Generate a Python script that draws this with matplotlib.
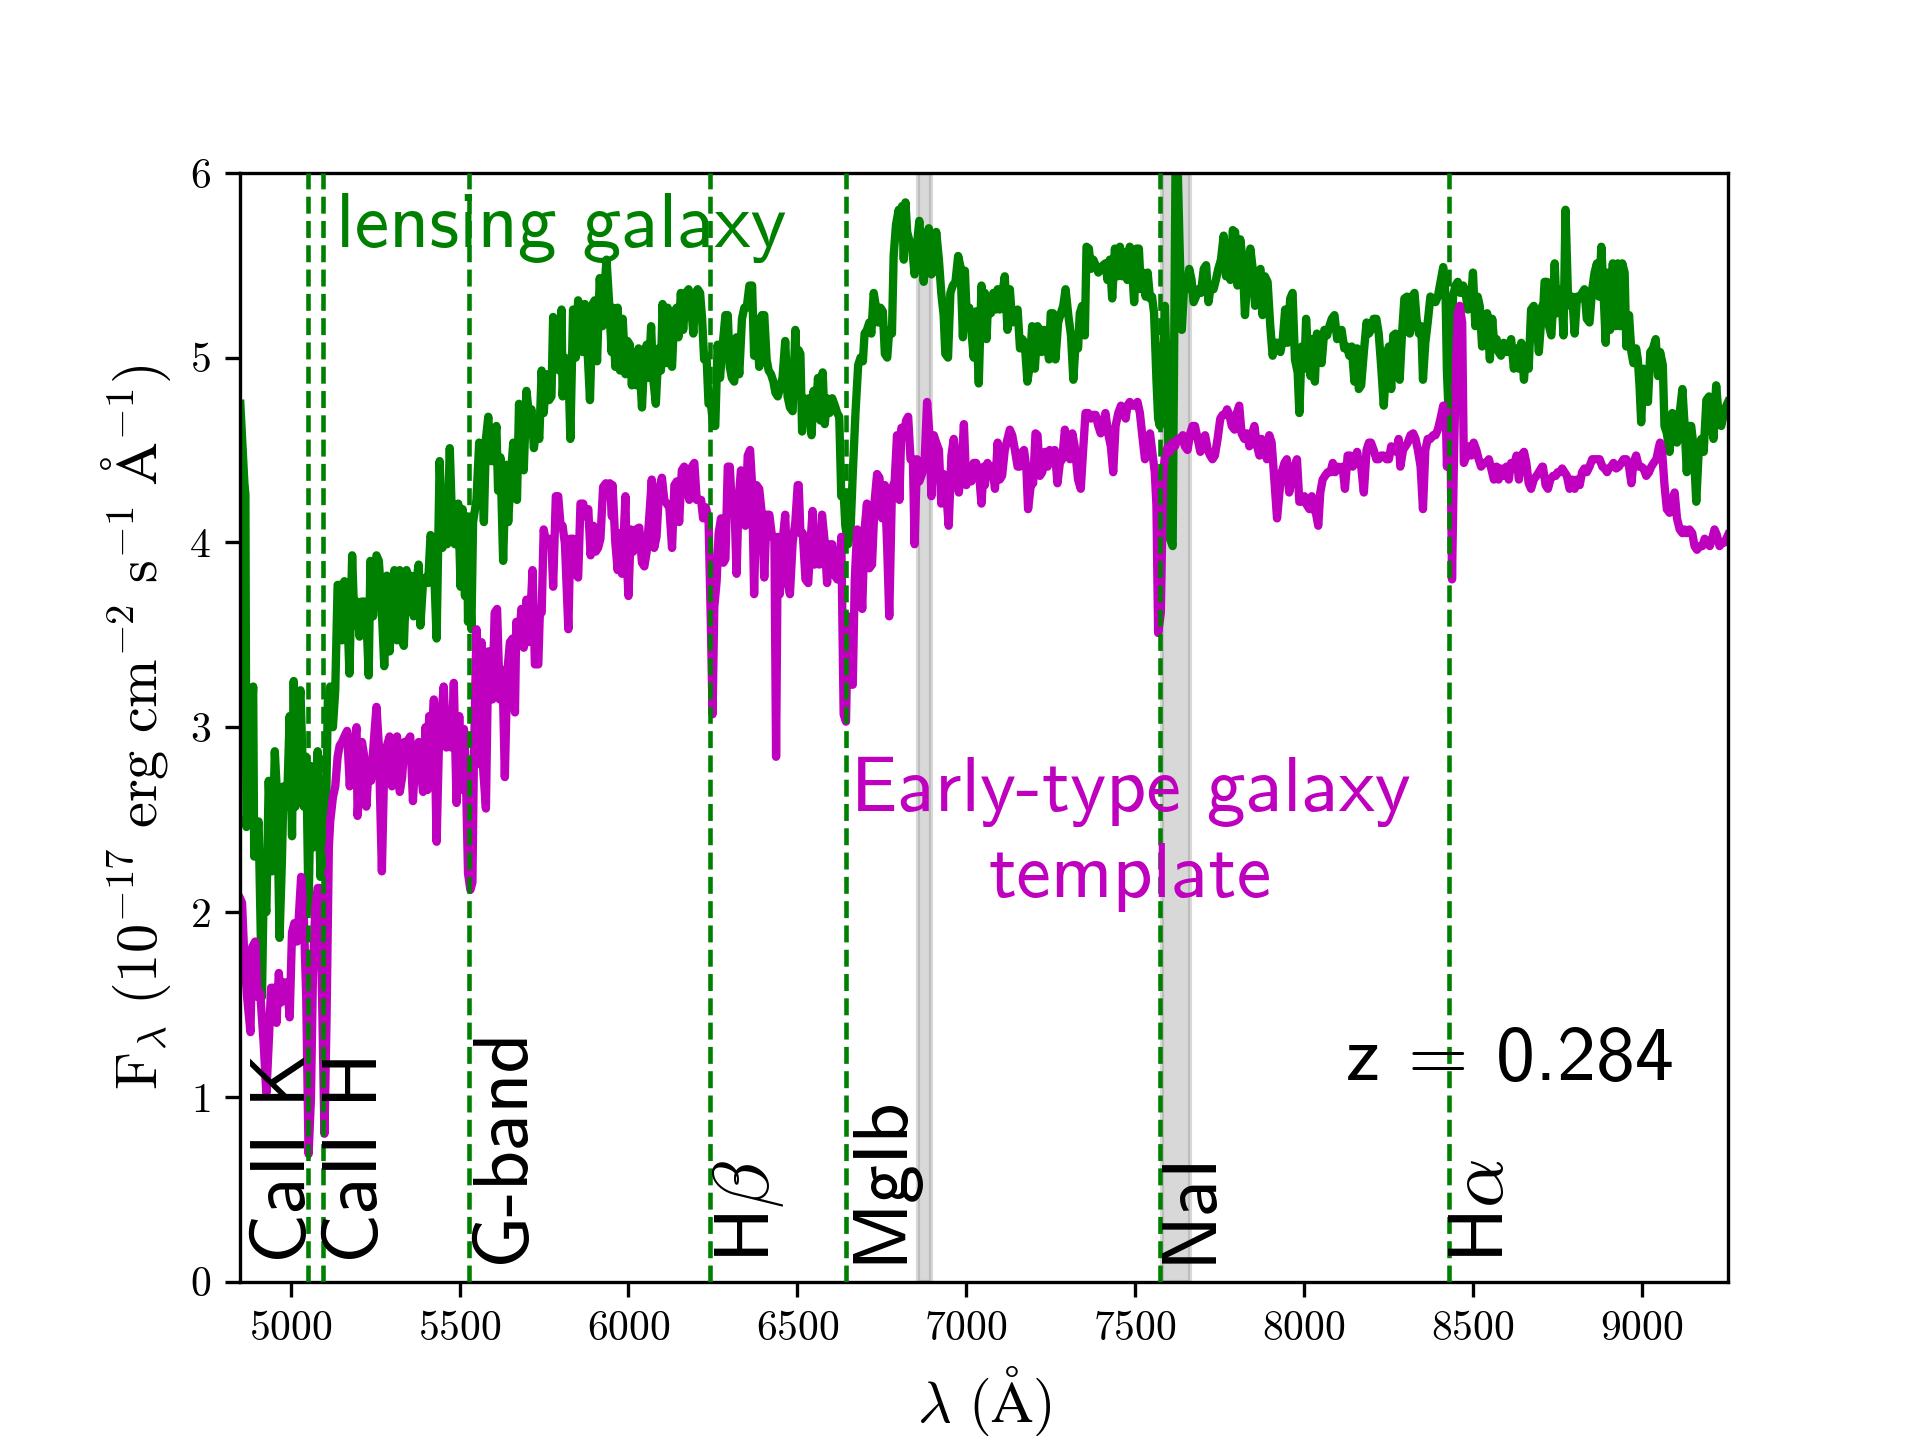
import matplotlib
matplotlib.use('Agg')
import matplotlib.pyplot as plt

# lensing galaxy spectrum (Angstrom, 1e-17 erg/cm2/s/A)
lens_wave = [4851, 4863, 4866, 4869, 4876, 4889, 4892, 4905, 4915, 4920, 4928, 4935, 4945, 4953, 4960, 4967,
             4974, 4979, 4989, 4997, 5004, 5009, 5014, 5021, 5029, 5039, 5046, 5053, 5060, 5068, 5080, 5088,
             5096, 5103, 5110, 5117, 5125, 5132, 5139, 5147, 5152, 5159, 5167, 5174, 5182, 5189, 5196, 5204,
             5211, 5218, 5224, 5231, 5236, 5244, 5254, 5261, 5268, 5277, 5285, 5293, 5300, 5307, 5315, 5323,
             5330, 5335, 5343, 5349, 5356, 5364, 5372, 5379, 5384, 5392, 5399,
             5407, 5414, 5422, 5432, 5441, 5449, 5456, 5463, 5471, 5479, 5486, 5496, 5503, 5509, 5516, 5522,
             5525, 5530, 5535, 5540, 5550, 5558, 5565, 5572, 5578, 5585, 5592, 5599, 5609, 5614, 5621, 5629,
             5637, 5644, 5651, 5659, 5664, 5670, 5676, 5683, 5690, 5698, 5706, 5713, 5720, 5728, 5736, 5743,
             5749, 5757, 5765, 5772, 5777, 5787, 5795, 5802, 5805, 5812, 5822, 5828, 5836, 5844, 5851, 5858,
             5864, 5871, 5878, 5886, 5894, 5900, 5907, 5915, 5923, 5930, 5935, 5943, 5950,
             5953, 5961, 5968, 5975, 5983, 5991, 5997, 6004, 6010, 6017, 6024, 6030, 6040, 6047, 6054, 6060,
             6067, 6073, 6081, 6089, 6096, 6101, 6109, 6116, 6123, 6129, 6136, 6143, 6148, 6155, 6162, 6170,
             6178, 6185, 6192, 6198, 6205, 6212, 6218, 6224, 6231, 6237, 6244, 6251, 6257, 6264, 6271, 6279,
             6287, 6294, 6300, 6306, 6313, 6320, 6328, 6336, 6343, 6350, 6358, 6366, 6372, 6379, 6387, 6395,
             6402, 6409, 6415, 6422, 6429, 6435, 6442, 6448, 6456, 6464, 6471, 6478, 6486, 6494, 6501,
             6504, 6509, 6514, 6519, 6526, 6534, 6542, 6548, 6555, 6561, 6568, 6575, 6581, 6588, 6595, 6603,
             6611, 6618, 6624, 6630, 6637, 6642, 6650, 6657, 6664, 6672, 6680, 6687, 6694, 6699, 6706, 6713,
             6719, 6726, 6733, 6739, 6746, 6753, 6759, 6766, 6772, 6780, 6785, 6792, 6800, 6805, 6810, 6815,
             6820, 6825, 6832, 6840, 6847, 6854, 6861, 6867, 6874, 6881, 6889, 6897, 6904, 6911, 6919, 6926,
             6933, 6938, 6946, 6953, 6960, 6968, 6976, 6983, 6990, 6996, 7002, 7009, 7015, 7022, 7029, 7037,
             7045, 7052,
             7055, 7060, 7065, 7073, 7080, 7087, 7093, 7099, 7106, 7114, 7122, 7129, 7136, 7144, 7152, 7159,
             7166, 7173, 7181, 7188, 7195, 7203, 7211, 7218, 7223, 7231, 7238, 7245, 7250, 7257, 7264, 7272,
             7280, 7287, 7294, 7302, 7310, 7317, 7323, 7331, 7336, 7343, 7351, 7356, 7363, 7369, 7376, 7383,
             7391, 7398, 7405, 7412, 7418, 7425, 7432, 7440, 7448, 7455, 7462, 7470, 7477, 7484, 7491, 7497,
             7504, 7511, 7517, 7524, 7531, 7537, 7544, 7550, 7556, 7563, 7568, 7573, 7578, 7588, 7596, 7603,
             7611, 7621, 7631, 7638, 7645, 7653, 7660, 7667, 7673, 7680, 7687, 7695, 7703, 7710, 7717, 7724,
             7732, 7739, 7746, 7754, 7762, 7769, 7776, 7782, 7789, 7796, 7803, 7811, 7818, 7825, 7833, 7841,
             7848, 7855, 7863, 7871, 7877, 7884, 7892, 7900, 7907, 7914, 7922, 7930, 7937, 7944, 7951, 7959,
             7966, 7973, 7981, 7986, 7993, 8001, 8006, 8013, 8019, 8025, 8032, 8038, 8045, 8052, 8060, 8068,
             8075, 8082, 8090, 8098, 8104, 8111, 8119, 8127, 8134, 8141, 8149, 8154,
             8157, 8162, 8169, 8177, 8185, 8192, 8198, 8206, 8214, 8221, 8228, 8236, 8244, 8251, 8258, 8264,
             8271, 8277, 8283, 8290, 8297, 8305, 8313, 8320, 8327, 8333, 8340, 8347, 8352, 8359, 8366, 8374,
             8382, 8389, 8396, 8404, 8412, 8419, 8423, 8428, 8435, 8441, 8448, 8455, 8463, 8471, 8478, 8485,
             8493, 8500, 8507, 8514, 8520, 8527, 8534, 8542, 8550, 8557, 8564, 8570, 8576, 8583, 8591, 8599,
             8606, 8613, 8621, 8629, 8636, 8643, 8651, 8658, 8665, 8672, 8680, 8688, 8695, 8705,
             8707, 8712, 8719, 8725, 8732, 8737, 8742, 8748, 8754, 8761, 8768, 8774, 8781, 8788, 8794, 8801,
             8808, 8816, 8823, 8830, 8837, 8845, 8853, 8860, 8867, 8873, 8880, 8887, 8893, 8899, 8906, 8914,
             8922, 8929, 8936, 8942, 8949, 8954, 8962, 8969, 8975, 8983, 8988, 8993, 8998, 9005, 9011, 9018,
             9025, 9033, 9041, 9048, 9054, 9062, 9067, 9074, 9082, 9090, 9097, 9104, 9112, 9120, 9126, 9133,
             9139, 9146, 9153, 9161, 9169, 9176, 9183, 9191, 9199, 9205, 9212, 9220, 9228, 9235, 9242, 9250,
             9255]
lens_flux = [4.75, 4.32, 4.26, 2.46, 2.68, 3.22, 2.30, 2.49, 1.54, 2.11, 2.00, 2.71, 2.22, 2.87, 2.62, 1.86,
             2.27, 2.68, 2.57, 3.06, 2.41, 3.25, 2.57, 3.06, 3.20, 2.57, 2.84, 2.00, 2.79, 2.35, 2.87, 2.19,
             2.49, 2.35, 3.14, 3.22, 3.00, 3.20, 3.77, 3.77, 3.47, 3.79, 3.66, 3.29, 3.93, 3.55, 3.68, 3.49,
             3.68, 3.68, 3.60, 3.28, 3.90, 3.60, 3.93, 3.90, 3.71, 3.33, 3.82, 3.41, 3.71, 3.85, 3.47, 3.85,
             3.47, 3.44, 3.85, 3.77, 3.82, 3.60, 3.79, 3.88, 3.55, 3.79, 3.81,
             3.78, 4.04, 3.99, 3.48, 4.44, 3.97, 4.21, 3.99, 4.51, 4.04, 3.99, 4.21, 3.76, 4.18, 3.71, 4.14,
             3.57, 3.81, 3.53, 4.11, 4.23, 4.54, 4.42, 4.11, 4.56, 4.68, 4.44, 4.44, 4.63, 4.28, 4.46, 3.90,
             4.42, 4.11, 4.35, 4.54, 4.32, 4.23, 4.75, 4.56, 4.39, 4.82, 4.68, 4.72, 4.51, 4.63, 4.56, 4.93,
             4.70, 4.91, 4.77, 4.79, 5.22, 5.03, 4.93, 5.26, 4.79, 5.00, 4.96, 4.56, 5.26, 5.00, 5.31, 5.22,
             5.03, 5.29, 5.07, 4.77, 5.29, 5.31, 4.98, 5.43, 5.17, 5.40, 5.53, 5.29, 5.03,
             5.27, 4.95, 5.27, 4.93, 5.21, 4.91, 5.09, 5.07, 4.85, 5.03, 4.85, 5.05, 4.73, 5.01, 5.07, 4.89,
             5.17, 4.89, 4.75, 5.05, 4.93, 5.29, 4.97, 5.27, 4.97, 4.95, 5.25, 5.27, 5.11, 5.35, 5.15, 5.35,
             5.37, 5.29, 5.13, 5.35, 5.37, 5.35, 5.21, 4.99, 5.01, 4.75, 4.75, 4.63, 4.63, 5.07, 4.89, 5.07,
             5.23, 5.23, 4.95, 4.89, 4.87, 5.11, 4.91, 5.21, 5.27, 5.27, 5.39, 5.39, 5.01, 5.21, 4.95, 5.23,
             5.23, 4.99, 4.93, 4.91, 4.87, 4.81, 4.79, 4.83, 4.89, 5.09, 4.79, 4.73, 4.71, 5.15, 4.81,
             5.04, 5.02, 4.60, 4.78, 4.76, 4.78, 4.58, 4.82, 4.70, 4.89, 4.66, 4.92, 4.64, 4.78, 4.70, 4.78,
             4.74, 4.70, 4.68, 4.25, 4.27, 4.09, 3.99, 4.05, 4.37, 4.70, 4.96, 5.00, 4.98, 5.13, 5.15, 5.19,
             5.13, 5.35, 5.27, 5.19, 5.27, 5.25, 5.02, 5.00, 5.15, 5.13, 5.55, 5.72, 5.80, 5.70, 5.82, 5.53,
             5.84, 5.68, 5.63, 5.59, 5.45, 5.61, 5.74, 5.59, 5.41, 5.57, 5.70, 5.45, 5.47, 5.68, 5.53, 5.35,
             5.23, 5.02, 5.00, 5.35, 5.39, 5.41, 5.55, 5.49, 5.11, 5.47, 5.19, 5.27, 5.15, 5.00, 5.25, 4.86,
             5.39, 5.25,
             5.35, 5.10, 5.32, 5.24, 5.35, 5.26, 5.37, 5.26, 5.33, 5.44, 5.15, 5.37, 5.19, 5.24, 5.26, 5.05,
             5.10, 5.08, 4.87, 4.96, 5.17, 4.94, 5.17, 5.15, 5.03, 5.15, 5.08, 4.99, 5.24, 5.24, 4.99, 5.19,
             5.24, 5.28, 5.37, 5.23, 5.12, 4.88, 5.06, 5.05, 5.24, 5.28, 5.12, 5.60, 5.59, 5.48, 5.53, 5.50,
             5.46, 5.48, 5.50, 5.51, 5.42, 5.53, 5.32, 5.59, 5.44, 5.60, 5.44, 5.57, 5.42, 5.60, 5.48, 5.30,
             5.59, 5.59, 5.37, 5.46, 5.33, 5.46, 5.32, 5.33, 5.24, 4.88, 4.67, 4.63, 4.74, 5.28, 4.74, 4.02,
             3.98, 6.40, 5.64, 5.15, 5.39, 5.37, 5.48, 5.42, 5.30, 5.33, 5.37, 5.35, 5.48, 5.50, 5.30, 5.39,
             5.37, 5.42, 5.48, 5.53, 5.66, 5.44, 5.62, 5.42, 5.69, 5.68, 5.39, 5.64, 5.53, 5.23, 5.46, 5.59,
             5.48, 5.28, 5.44, 5.48, 5.23, 5.44, 5.41, 5.17, 5.01, 5.08, 5.08, 5.03, 5.10, 5.26, 5.08, 5.32,
             5.35, 4.99, 4.92, 4.70, 5.06, 4.94, 5.21, 4.99, 4.90, 5.10, 4.87, 5.13, 5.03, 4.97, 5.15, 5.12,
             5.17, 5.21, 5.23, 5.10, 5.12, 5.15, 5.05, 5.06, 5.01, 5.06, 4.87, 4.99,
             5.05, 4.83, 4.85, 5.03, 5.19, 5.13, 5.15, 5.21, 5.21, 5.13, 4.96, 4.74, 4.99, 5.06, 4.83, 5.12,
             5.13, 5.12, 4.88, 5.13, 5.32, 5.33, 5.13, 5.33, 5.35, 5.21, 5.13, 5.17, 4.88, 5.08, 5.19, 5.33,
             5.32, 5.30, 5.33, 5.41, 5.49, 5.33, 4.92, 4.70, 4.92, 5.33, 5.39, 5.41, 5.35, 5.39, 5.35, 5.26,
             5.28, 5.46, 5.17, 5.33, 5.28, 5.06, 5.13, 5.24, 4.99, 5.21, 5.05, 5.10, 5.03, 5.01, 5.08, 5.03,
             5.06, 5.10, 4.94, 5.05, 4.94, 5.08, 4.88, 5.06, 4.94, 5.26, 5.28, 5.21, 5.03, 5.28,
             5.23, 5.41, 5.41, 5.17, 5.12, 5.28, 5.51, 5.24, 5.35, 5.37, 5.12, 5.80, 5.35, 5.28, 5.33, 5.13,
             5.33, 5.32, 5.35, 5.37, 5.21, 5.19, 5.37, 5.46, 5.51, 5.33, 5.60, 5.33, 5.08, 5.46, 5.15, 5.51,
             5.17, 5.51, 5.17, 5.51, 5.46, 5.06, 5.23, 5.03, 4.97, 5.05, 4.99, 4.85, 4.65, 4.94, 4.92, 4.76,
             5.03, 5.05, 5.10, 4.90, 5.03, 4.96, 4.63, 4.59, 4.49, 4.70, 4.69, 4.54, 4.70, 4.83, 4.65, 4.38,
             4.63, 4.63, 4.52, 4.22, 4.52, 4.56, 4.49, 4.77, 4.79, 4.67, 4.56, 4.85, 4.67, 4.63, 4.69, 4.74,
             4.76]

# early-type galaxy template
templ_wave = [4851, 4856, 4863, 4871, 4881, 4886, 4895, 4902, 4910, 4920, 4928, 4935, 4942, 4950, 4958, 4965,
              4971, 4977, 4984, 4989, 4997, 5004, 5011, 5019, 5024, 5031, 5039, 5046, 5053, 5060, 5066, 5073,
              5080, 5086, 5093, 5100, 5106, 5113, 5117, 5125, 5132, 5139, 5145, 5152, 5159, 5167, 5175, 5182,
              5189, 5195, 5198, 5204, 5211, 5218, 5224, 5231, 5238, 5246, 5254, 5261, 5270, 5277, 5285, 5293,
              5300, 5307, 5315, 5323, 5330, 5337, 5344, 5354, 5362, 5369, 5379, 5384, 5392, 5399,
              5405, 5410, 5417, 5424, 5432, 5440, 5446, 5453, 5461, 5469, 5476, 5483, 5491, 5499, 5506, 5513,
              5518, 5525, 5532, 5538, 5542, 5550, 5558, 5565, 5570, 5578, 5585, 5592, 5597, 5604, 5611, 5619,
              5627, 5634, 5641, 5649, 5657, 5664, 5668, 5676, 5683, 5690, 5698, 5703, 5710, 5716, 5723, 5733,
              5738, 5743, 5749, 5757, 5765, 5772, 5777, 5785, 5792, 5799, 5805, 5812, 5822, 5828, 5836, 5844,
              5851, 5858, 5866, 5874, 5881, 5888, 5896, 5903, 5910, 5917, 5925, 5933, 5940, 5945, 5951,
              5953, 5961, 5968, 5975, 5981, 5991, 5994, 6000, 6007, 6014, 6022, 6032, 6040, 6047, 6054, 6062,
              6069, 6076, 6083, 6091, 6099, 6106, 6113, 6121, 6129, 6136, 6143, 6150, 6158, 6165, 6172, 6180,
              6188, 6195, 6202, 6208, 6215, 6221, 6229, 6237, 6244, 6249, 6254, 6261, 6267, 6274, 6281, 6287,
              6294, 6300, 6306, 6313, 6320, 6326, 6333, 6338, 6346, 6353, 6360, 6366, 6372, 6379, 6387, 6395,
              6402, 6409, 6417, 6425, 6432, 6437, 6442, 6448, 6456, 6464, 6471, 6478, 6486, 6494, 6501,
              6504, 6509, 6516, 6524, 6532, 6539, 6545, 6551, 6558, 6565, 6573, 6581, 6588, 6595, 6603, 6611,
              6618, 6624, 6630, 6637, 6644, 6650, 6657, 6664, 6670, 6677, 6684, 6692, 6699, 6706, 6713, 6721,
              6729, 6736, 6743, 6751, 6759, 6766, 6772, 6780, 6788, 6795, 6802, 6808, 6815, 6822, 6828, 6835,
              6842, 6847, 6854, 6861, 6869, 6877, 6884, 6891, 6897, 6904, 6911, 6919, 6926, 6933, 6940, 6948,
              6956, 6963, 6970, 6978, 6986, 6993, 7000, 7007, 7015, 7022, 7029, 7037, 7045, 7052,
              7055, 7063, 7070, 7077, 7085, 7093, 7099, 7106, 7114, 7122, 7129, 7136, 7144, 7152, 7159, 7166,
              7171, 7178, 7183, 7191, 7198, 7205, 7211, 7218, 7225, 7233, 7241, 7247, 7254, 7262, 7270, 7277,
              7284, 7292, 7300, 7307, 7314, 7321, 7331, 7339, 7346, 7353, 7361, 7369, 7376, 7383, 7391, 7398,
              7405, 7412, 7420, 7428, 7435, 7442, 7450, 7458, 7465, 7472, 7477, 7484, 7491, 7499, 7507, 7514,
              7521, 7529, 7537, 7544, 7550, 7558, 7563, 7568, 7576, 7583, 7590, 7598, 7603,
              7611, 7618, 7626, 7634, 7641, 7647, 7655, 7663, 7670, 7677, 7685, 7693, 7700, 7707, 7715, 7722,
              7729, 7736, 7744, 7752, 7759, 7766, 7772, 7779, 7786, 7794, 7801, 7808, 7815, 7823, 7831, 7838,
              7845, 7853, 7861, 7868, 7874, 7882, 7890, 7897, 7904, 7912, 7920, 7927, 7934, 7942, 7949, 7956,
              7963, 7971, 7979, 7986, 7993, 8001, 8009, 8016, 8023, 8028, 8035, 8042, 8048, 8055, 8062, 8070,
              8078, 8085, 8092, 8100, 8107, 8114, 8121, 8129, 8137, 8144, 8154,
              8157, 8162, 8169, 8177, 8185, 8192, 8198, 8206, 8214, 8221, 8228, 8236, 8244, 8251, 8258, 8266,
              8273, 8280, 8285, 8293, 8300, 8307, 8315, 8323, 8330, 8337, 8345, 8352, 8359, 8366, 8374, 8382,
              8389, 8396, 8404, 8412, 8419, 8423, 8428, 8433, 8438, 8443, 8449, 8455, 8461, 8468, 8473, 8481,
              8488, 8495, 8502, 8510, 8517, 8524, 8532, 8540, 8547, 8554, 8562, 8570, 8576, 8583, 8591, 8599,
              8606, 8613, 8621, 8629, 8636, 8643, 8651, 8658, 8665, 8672, 8680, 8688, 8695, 8705,
              8707, 8715, 8722, 8729, 8737, 8745, 8751, 8758, 8764, 8771, 8778, 8786, 8794, 8801, 8808, 8816,
              8823, 8830, 8837, 8845, 8853, 8860, 8867, 8875, 8883, 8890, 8897, 8902, 8909, 8916, 8924, 8932,
              8939, 8946, 8954, 8962, 8969, 8975, 8983, 8991, 8998, 9005, 9013, 9021, 9028, 9035, 9043, 9051,
              9054, 9060, 9067, 9074, 9082, 9090, 9097, 9104, 9112, 9120, 9126, 9133, 9141, 9149, 9156, 9163,
              9171, 9179, 9186, 9193, 9201, 9208, 9215, 9222, 9230, 9238, 9245, 9255]
templ_flux = [2.07, 2.05, 1.75, 1.54, 1.35, 1.81, 1.84, 1.54, 1.56, 1.29, 1.02, 1.29, 1.59, 1.59, 1.40, 1.67,
              1.51, 1.62, 1.54, 1.62, 1.43, 1.89, 1.94, 1.84, 1.97, 2.19, 1.97, 1.54, 0.69, 0.99, 1.67, 2.03,
              2.13, 2.13, 1.54, 0.80, 1.40, 2.35, 2.49, 2.62, 2.68, 2.84, 2.90, 2.92, 2.95, 2.98, 2.68, 2.90,
              2.92, 3.00, 2.52, 2.68, 2.92, 2.84, 2.57, 2.79, 2.71, 2.92, 3.11, 2.90, 2.22, 2.79, 2.90, 2.95,
              2.68, 2.92, 2.95, 2.65, 2.73, 2.92, 2.92, 2.95, 2.60, 2.84, 2.92, 2.79, 2.65, 3.00,
              2.66, 3.06, 2.94, 3.15, 2.38, 2.99, 3.06, 3.22, 2.89, 2.96, 2.89, 3.24, 2.59, 3.06, 2.66, 2.99,
              2.80, 2.21, 2.12, 2.16, 2.77, 3.53, 2.80, 3.46, 2.77, 2.56, 3.41, 3.41, 3.15, 3.62, 3.64, 3.15,
              3.31, 2.73, 3.29, 3.46, 3.48, 3.08, 3.57, 3.46, 3.64, 3.43, 3.69, 3.46, 3.62, 3.85, 3.34, 3.34,
              3.64, 3.62, 4.07, 3.99, 4.02, 3.99, 3.76, 4.25, 4.25, 4.09, 4.09, 3.99, 3.53, 4.02, 4.02, 3.83,
              3.81, 4.21, 4.21, 4.14, 4.18, 3.93, 4.09, 3.95, 3.97, 4.02, 4.30, 4.32, 4.30, 4.32, 4.14,
              4.31, 4.00, 3.85, 4.05, 3.83, 4.25, 3.95, 3.71, 4.07, 3.95, 4.07, 4.08, 3.89, 3.87, 3.95, 4.15,
              4.34, 3.97, 4.03, 4.29, 4.35, 4.23, 4.21, 4.19, 3.97, 4.31, 4.33, 4.11, 4.39, 4.41, 4.31, 4.23,
              4.41, 4.43, 4.23, 4.23, 4.23, 4.13, 4.19, 4.13, 3.55, 3.07, 3.65, 3.79, 4.05, 4.13, 3.89, 3.91,
              4.41, 4.41, 4.19, 4.25, 3.83, 4.23, 4.39, 4.35, 4.09, 4.47, 4.50, 4.31, 3.72, 4.31, 4.29, 4.15,
              3.81, 4.15, 4.15, 4.03, 4.03, 2.84, 4.03, 3.72, 4.00, 4.15, 3.79, 3.72, 4.00, 4.11, 4.31,
              4.31, 4.05, 4.05, 3.80, 3.78, 4.00, 4.17, 3.88, 3.90, 3.88, 4.15, 4.00, 3.78, 3.99, 3.99, 3.82,
              3.80, 3.80, 4.03, 3.07, 3.03, 3.60, 3.23, 3.23, 3.80, 4.07, 3.88, 3.64, 4.07, 4.21, 3.86, 3.88,
              4.23, 4.37, 4.35, 4.13, 4.31, 3.97, 3.60, 4.29, 4.33, 4.58, 4.23, 4.62, 4.58, 4.66, 4.68, 4.45,
              4.45, 3.99, 4.45, 4.33, 4.37, 4.45, 4.76, 4.58, 4.25, 4.58, 4.54, 4.50, 4.21, 4.37, 4.29, 4.09,
              4.47, 4.56, 4.41, 4.27, 4.41, 4.64, 4.31, 4.41, 4.33, 4.43, 4.43, 4.39, 4.21, 4.41,
              4.31, 4.43, 4.38, 4.41, 4.29, 4.54, 4.34, 4.36, 4.50, 4.56, 4.61, 4.58, 4.50, 4.41, 4.41, 4.49,
              4.50, 4.40, 4.18, 4.31, 4.32, 4.59, 4.58, 4.36, 4.38, 4.49, 4.41, 4.50, 4.45, 4.50, 4.32, 4.43,
              4.45, 4.61, 4.49, 4.45, 4.59, 4.52, 4.34, 4.29, 4.50, 4.70, 4.70, 4.67, 4.69, 4.69, 4.63, 4.59,
              4.65, 4.70, 4.59, 4.52, 4.38, 4.63, 4.70, 4.74, 4.70, 4.67, 4.74, 4.76, 4.74, 4.74, 4.76, 4.70,
              4.58, 4.45, 4.52, 4.59, 4.50, 4.38, 4.20, 3.51, 3.62, 4.38, 4.49, 4.52, 4.49,
              4.54, 4.52, 4.56, 4.56, 4.58, 4.52, 4.50, 4.59, 4.63, 4.63, 4.56, 4.49, 4.56, 4.58, 4.50, 4.47,
              4.45, 4.47, 4.56, 4.67, 4.69, 4.69, 4.72, 4.69, 4.63, 4.61, 4.70, 4.74, 4.59, 4.56, 4.59, 4.52,
              4.58, 4.63, 4.52, 4.47, 4.56, 4.52, 4.45, 4.58, 4.54, 4.34, 4.13, 4.27, 4.38, 4.43, 4.45, 4.27,
              4.34, 4.41, 4.45, 4.22, 4.22, 4.25, 4.20, 4.18, 4.25, 4.18, 4.16, 4.09, 4.27, 4.34, 4.36, 4.38,
              4.38, 4.43, 4.38, 4.41, 4.40, 4.41, 4.29, 4.47, 4.47, 4.41, 4.45,
              4.49, 4.43, 4.41, 4.27, 4.50, 4.54, 4.54, 4.50, 4.45, 4.45, 4.47, 4.47, 4.45, 4.45, 4.52, 4.50,
              4.49, 4.56, 4.41, 4.50, 4.52, 4.54, 4.58, 4.59, 4.56, 4.50, 4.41, 4.18, 4.50, 4.56, 4.56, 4.58,
              4.58, 4.61, 4.67, 4.74, 4.74, 4.41, 4.67, 4.65, 3.80, 4.38, 4.92, 5.24, 5.28, 5.19, 4.43, 4.47,
              4.52, 4.47, 4.54, 4.50, 4.45, 4.41, 4.43, 4.43, 4.45, 4.40, 4.34, 4.41, 4.34, 4.40, 4.36, 4.41,
              4.34, 4.43, 4.41, 4.47, 4.34, 4.47, 4.49, 4.43, 4.32, 4.29, 4.34, 4.36, 4.38, 4.41,
              4.41, 4.31, 4.29, 4.34, 4.36, 4.36, 4.38, 4.38, 4.40, 4.38, 4.36, 4.29, 4.34, 4.29, 4.34, 4.31,
              4.38, 4.40, 4.38, 4.41, 4.45, 4.45, 4.45, 4.45, 4.41, 4.40, 4.38, 4.40, 4.41, 4.43, 4.40, 4.41,
              4.43, 4.45, 4.45, 4.41, 4.32, 4.43, 4.47, 4.41, 4.41, 4.40, 4.36, 4.38, 4.41, 4.43, 4.45, 4.52,
              4.54, 4.49, 4.31, 4.18, 4.16, 4.23, 4.27, 4.13, 4.07, 4.05, 4.07, 4.05, 4.07, 4.05, 3.98, 3.96,
              3.98, 3.98, 4.02, 4.00, 3.98, 4.02, 4.07, 4.04, 3.98, 4.00, 4.00, 4.04]

# redshifted absorption features
line_names = ['CaII K', 'CaII H', 'G-band', r'H$\beta$', 'MgIb', 'NaI', r'H$\alpha$']
line_waves = [5051, 5096, 5527, 6242, 6645, 7575, 8430]
label_waves = [5088, 5096, 5527, 6242, 6645, 7560, 8430]
line_ha = ['right', 'left', 'left', 'left', 'left', 'left', 'left']

# telluric bands
telluric = [(6858, 6895), (7580, 7662)]

plt.rcParams['mathtext.fontset'] = 'cm'
plt.rcParams['font.family'] = 'serif'
plt.rcParams['font.serif'] = ['cmr10', 'DejaVu Serif']
plt.rcParams['axes.formatter.use_mathtext'] = True

fig, ax = plt.subplots(figsize=(6.4, 4.8), dpi=300)

for lo, hi in telluric:
    ax.axvspan(lo, hi, color='grey', alpha=0.3, zorder=0)

ax.plot(lens_wave, lens_flux, color='g', lw=2.0, zorder=2)
ax.plot(templ_wave, templ_flux, color='m', lw=2.0, zorder=2)

for name, w, lw_, ha in zip(line_names, line_waves, label_waves, line_ha):
    ax.axvline(w, color='g', ls='--', lw=1.1, zorder=3)
    ax.text(lw_, 0.1, name, rotation=90, ha=ha, va='bottom', fontsize=18.7,
            family='cmss10', zorder=4)

sans = dict(family='cmss10', fontsize=18.7)
ax.text(5135, 5.6, 'lensing galaxy', color='g', ha='left', va='baseline', **sans)
ax.text(7486, 2.42, 'Early-type galaxy\ntemplate', color='m', ha='center', va='center',
        multialignment='center', linespacing=1.3, **sans)
ax.text(8120, 1.09, r'z $\!=\!$ 0.284', color='k', ha='left', va='baseline', **sans)

ax.set_xlim(4850, 9255)
ax.set_ylim(0, 6)
ax.set_xlabel(r'$\lambda\ (\mathrm{\AA})$', fontsize=14)
ax.set_ylabel(r'$\mathrm{F}_\lambda\ (10^{-17}\ \mathrm{erg\ cm^{-2}\ s^{-1}\ \AA^{-1}})$', fontsize=14)

fig.savefig('out.png', dpi=300)
